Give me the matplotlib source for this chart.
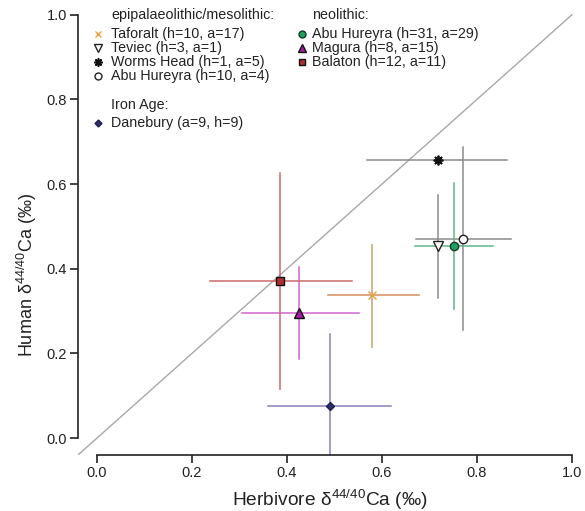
import numpy as np
import matplotlib
matplotlib.use('Agg')
import matplotlib.pyplot as plt
from matplotlib.lines import Line2D

plt.rcParams['font.family'] = ['Liberation Sans', 'DejaVu Sans']
plt.rcParams['mathtext.default'] = 'regular'

nan = np.nan
# sites (mean herbivore / human d44/40Ca, with 2SD-type bars)
sites = ['Taforalt', 'Teviec', 'Worms Head', 'Abu Hureyra',
         'Abu Hureyra', 'Magura', 'Balaton', 'Danebury']
period = ['epi', 'epi', 'epi', 'epi', 'neo', 'neo', 'neo', 'iron']
counts = ['(h=10, a=17)', '(h=3, a=1)', '(h=1, a=5)', '(h=10, a=4)',
          '(h=31, a=29)', '(h=8, a=15)', '(h=12, a=11)', '(a=9, h=9)']
herb = [0.579, 0.718, 0.718, 0.771, 0.752, 0.425, 0.385, 0.490]
human = [0.339, 0.453, 0.656, 0.471, 0.453, 0.296, 0.370, 0.076]
herb_lo = [0.486, nan, 0.568, 0.672, 0.669, 0.305, 0.238, 0.360]
herb_hi = [0.678, nan, 0.863, 0.872, 0.834, 0.552, 0.537, 0.619]
human_lo = [0.216, 0.332, nan, 0.256, 0.306, 0.187, 0.116, -0.08]
human_hi = [0.457, 0.573, nan, 0.687, 0.602, 0.405, 0.626, 0.246]

# styles per site
hcol = ['#d58c5c', '#8c8c8c', '#8c8c8c', '#8c8c8c', '#5cb88a', '#d263d2', '#cc6a6a', '#8c80bc']
vcol = ['#cca06a', '#8c8c8c', '#8c8c8c', '#8c8c8c', '#5cb88a', '#d263d2', '#cc6a6a', '#8c80bc']
markers = ['x', 'v', (8, 2, 0), 'o', 'o', '^', 's', 'D']
mfc = ['#e8a040', 'white', 'black', 'white', '#20a060', '#a020a0', '#b03030', '#303070']
mec = ['#e8a040', '#222222', '#111111', '#222222', '#1a3a2a', '#111111', '#111111', '#20204a']
msize = [5.5, 7, 7, 6, 6, 7, 6, 4.5]

W, H = 585, 511
fig = plt.figure(figsize=(W / 100, H / 100), dpi=100)
ax = fig.add_axes([78 / W, 56 / H, 503.5 / W, 453 / H])
ax.set_xlim(-0.04, 1.02)
ax.set_ylim(-0.04, 1.03)

ax.plot([-0.04, 1.0], [-0.04, 1.0], color='#a8a8a8', lw=1.0, zorder=1)

for i in range(len(sites)):
    if not np.isnan(herb_lo[i]):
        ax.plot([herb_lo[i], herb_hi[i]], [human[i], human[i]], color=hcol[i], lw=1.1, zorder=2)
    if not np.isnan(human_lo[i]):
        ax.plot([herb[i], herb[i]], [human_lo[i], human_hi[i]], color=vcol[i], lw=1.1, zorder=2)
for i in range(len(sites)):
    ax.plot(herb[i], human[i], linestyle='none', marker=markers[i], ms=msize[i],
            mfc=mfc[i], mec=mec[i], mew=1.3 if markers[i] == (8, 2, 0) else 1.0, zorder=3)

for s in ['top', 'right']:
    ax.spines[s].set_visible(False)
for s in ['left', 'bottom']:
    ax.spines[s].set_bounds(0, 1)
    ax.spines[s].set_linewidth(1.2)
    ax.spines[s].set_color('#222222')
ticks = [0.0, 0.2, 0.4, 0.6, 0.8, 1.0]
ax.set_xticks(ticks)
ax.set_yticks(ticks)
ax.set_xticklabels(['%.1f' % t for t in ticks])
ax.set_yticklabels(['%.1f' % t for t in ticks])
ax.tick_params(direction='out', length=5.5, width=1.2, color='#222222',
               labelsize=10.5, labelcolor='#222222', pad=2.5)

ax.set_xlabel('Herbivore δ$^{44/40}$Ca (‰)', fontsize=13.8, color='#222222')
ax.set_ylabel('Human δ$^{44/40}$Ca (‰)', fontsize=13, color='#222222')
ax.xaxis.set_label_coords(0.5, -0.099)
ax.xaxis.label.set_verticalalignment('center')
ax.yaxis.set_label_coords(-0.101, 0.397)
ax.yaxis.label.set_verticalalignment('center')


# hand-placed legend blocks (pixel positions of the original)
def px(x, y):
    return x / W, 1 - y / H


def block(title, idx, xm, xt, y0, rows):
    fig.text(*px(xt, y0), title, fontsize=10.3, va='center', ha='left', color='#222222')
    for k, i in enumerate(idx):
        fx, fy = px(xm, rows[k])
        fig.add_artist(Line2D([fx], [fy], transform=fig.transFigure, linestyle='none',
                              marker=markers[i], ms=msize[i] - 1, mfc=mfc[i], mec=mec[i],
                              mew=1.2 if markers[i] == (8, 2, 0) else 1.0))
        fig.text(*px(xt, rows[k]), sites[i] + ' ' + counts[i], fontsize=10.3,
                 va='center', ha='left', color='#222222')


block('epipalaeolithic/mesolithic:', [0, 1, 2, 3], 98, 111, 15, [34, 48, 62, 76])
block('neolithic:', [4, 5, 6], 302, 312, 15, [34, 48, 62])
block('Iron Age:', [7], 98, 111, 105, [123])

fig.savefig('out.png', dpi=100)
